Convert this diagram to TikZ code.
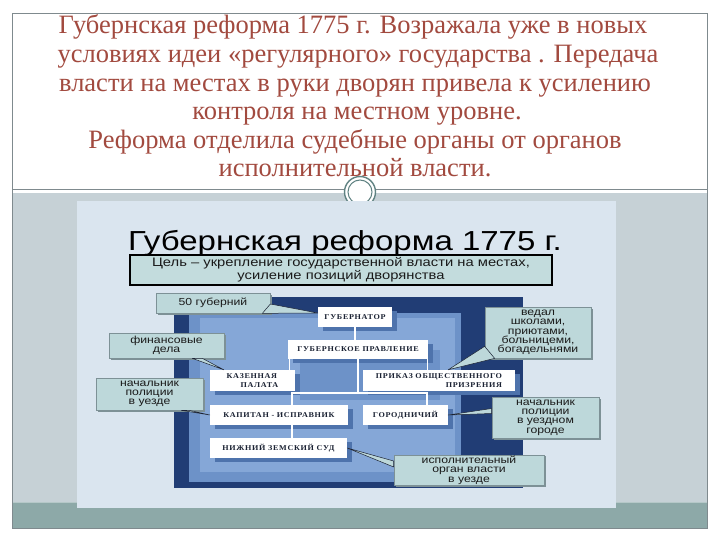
\documentclass[tikz,border=0pt]{standalone}
\usepackage{fontspec}
\setmainfont{Liberation Serif}
\newfontfamily\picsans[FakeStretch=1.2]{Liberation Sans}
\newfontfamily\picserif[FakeStretch=1.1,LetterSpace=9]{Liberation Serif}
\usetikzlibrary{calc,shadows}
\newcommand\tightlines{\lineskiplimit=-10pt\relax}
\definecolor{slidetxt}{HTML}{A24A3F}
\definecolor{framegray}{HTML}{7F8A8E}
\definecolor{lowbg}{HTML}{C6D1D6}
\definecolor{bandc}{HTML}{8DA9A8}
\definecolor{bandline}{HTML}{B5C8C8}
\definecolor{picbg}{HTML}{DAE5EF}
\definecolor{navy}{HTML}{213D75}
\definecolor{midblue}{HTML}{6D92C8}
\definecolor{lightblue}{HTML}{85A7D7}
\definecolor{shadeblue}{HTML}{4E73AC}
\definecolor{callfill}{HTML}{BDD8DA}
\definecolor{callborder}{HTML}{7D9196}
\definecolor{goalfill}{HTML}{C3DCDD}
\definecolor{ringc}{HTML}{5F8282}
\definecolor{boxtxt}{HTML}{1B2233}
\definecolor{calltxt}{HTML}{1A1A1A}
\begin{document}
\begin{tikzpicture}[x=1pt,y=-1pt,
  slideline/.style={anchor=base,text=slidetxt,font=\fontsize{26.5}{30}\selectfont,inner sep=0},
  wbox/.style={fill=white,inner sep=1pt,text=boxtxt,font=\picserif\bfseries\fontsize{7.4}{8.2}\selectfont\tightlines},
  callout/.style={fill=callfill,draw=callborder,line width=0.7pt,inner sep=1pt,align=center,
     text=calltxt,font=\picsans\fontsize{10.2}{9.3}\selectfont\tightlines,
     drop shadow={shadow xshift=1.5pt,shadow yshift=-1.5pt,fill=callborder,opacity=1}},
  ptr/.style={fill=callfill,draw=boxtxt,line width=0.5pt,line join=round},
  wline/.style={draw=white,line width=1.3pt},
  bshadow/.style={fill=shadeblue}
]
\useasboundingbox (0,0) rectangle (720,540);
% slide frame
\fill[white] (0,0) rectangle (720,540);
\fill[lowbg] (13,193) rectangle (707,502);
\fill[bandc] (13,502) rectangle (707,528);
\draw[bandline,line width=1pt] (13,502.5) -- (707,502.5);
\draw[framegray,line width=0.8pt] (12.5,13) rectangle (707.5,528);
\draw[framegray,line width=1pt] (12.5,190) -- (707.5,190);
% slide text
\node[slideline] (t1) at (353,34) {Губернская реформа 1775 г. Возражала уже в новых};
\node[slideline] (t2) at (358,62.6) {условиях идеи «регулярного» государства . Передача};
\node[slideline] (t3) at (355,91.2) {власти на местах в руки дворян привела к усилению};
\node[slideline] (t4) at (357,119.8) {контроля на местном уровне.};
\node[slideline] (t5) at (355,148.4) {Реформа отделила судебные органы от органов};
\node[slideline] (t6) at (355,177) {исполнительной власти.};
% ring ornament
\fill[white] (360,192) circle (15.5);
\draw[ringc,line width=1.4pt] (360,192) circle (15.5);
\draw[ringc,line width=1pt] (360,192) circle (12);
% embedded picture
\fill[picbg] (77,201) rectangle (616,508);
\node[anchor=base,inner sep=0,font=\picsans\fontsize{27.5}{30}\selectfont] (title) at (345,250) {Губернская реформа 1775 г.};
\node[draw=black,line width=1.5pt,fill=goalfill,minimum width=422pt,minimum height=30pt,inner sep=0,align=center,
      text=calltxt,font=\picsans\fontsize{12.3}{13}\selectfont\tightlines] (goal) at (341,270)
      {Цель – укрепление государственной власти на местах,\\усиление позиций дворянства};
% blue panel
\fill[navy] (174,297) rectangle (523,488);
\fill[midblue] (189,313) rectangle (461,482);
\fill[lightblue] (200,318) rectangle (455,472);
\fill[midblue] (300,350) rectangle (440,400);
% box shadows
\fill[bshadow] (323,311) rectangle (397,331);
\fill[bshadow] (293,344) rectangle (433,363);
\fill[bshadow] (215,374) rectangle (300,395);
\fill[bshadow] (368,374) rectangle (520,395);
\fill[bshadow] (215,409) rectangle (353,429);
\fill[bshadow] (368,409) rectangle (453,429);
\fill[bshadow] (215,442) rectangle (352,462);
% white boxes
\node[wbox,minimum width=74pt,minimum height=20pt] (gubr) at (355,317) {ГУБЕРНАТОР};
\node[wbox,minimum width=140pt,minimum height=19pt] (prav) at (358,349.5) {ГУБЕРНСКОЕ ПРАВЛЕНИЕ};
\node[wbox,minimum width=85pt,minimum height=21pt,align=left] (kaz) at (252.5,380.5) {КАЗЕННАЯ\\\hspace*{14pt}ПАЛАТА};
\node[wbox,minimum width=152pt,minimum height=21pt,align=right] (prik) at (439,380.5) {ПРИКАЗ ОБЩЕСТВЕННОГО\\ПРИЗРЕНИЯ};
\node[wbox,minimum width=138pt,minimum height=20pt] (kap) at (279,415) {КАПИТАН - ИСПРАВНИК};
\node[wbox,minimum width=85pt,minimum height=20pt] (gor) at (405.5,415) {ГОРОДНИЧИЙ};
\node[wbox,minimum width=137pt,minimum height=20pt] (niz) at (278.5,448) {НИЖНИЙ ЗЕМСКИЙ СУД};
% connectors
\coordinate (jl) at (292,393);
\coordinate (jr) at (427,393);
\draw[wline] (gubr.south) -- (gubr.south |- prav.north);
\draw[wline] ([xshift=2pt]prav.south west) -- ([xshift=2pt]prav.south west |- kaz.north);
\draw[wline] ([xshift=-1pt]prav.south east) -- ([xshift=-1pt]prav.south east |- prik.north);
\draw[wline] (prav.south) -- (prav.south |- jl);
\draw[wline] (jl |- kap.north) -- (jl) -- (jr) -- (jr |- gor.north);
\draw[wline] (kap.south -| jl) -- (niz.north -| jl);
% callouts
\node[callout,minimum width=114pt,minimum height=20pt] (c50) at (213,303) {50 губерний};
\node[callout,minimum width=115pt,minimum height=25pt] (cfin) at (166.5,345.5) {финансовые\\дела};
\node[callout,minimum width=107pt,minimum height=32pt] (cpol) at (149.5,394) {начальник\\полиции\\в уезде};
\node[callout,minimum width=106pt,minimum height=51pt] (cved) at (538,332.5) {ведал\\школами,\\приютами,\\больницеми,\\богадельнями};
\node[callout,minimum width=107pt,minimum height=41pt] (cgor) at (545.5,417.5) {начальник\\полиции\\в уездном\\городе};
\node[callout,minimum width=150pt,minimum height=30pt] (cisp) at (469,470) {исполнительный\\орган власти\\в уезде};
% pointers
\filldraw[ptr] ($(c50.east)+(0,1)$) -- ($(c50.south east)+(-8,0)$) -- ($(gubr.west)+(0,-4)$) -- cycle;
\filldraw[ptr] ($(cfin.south east)+(-32,0)$) -- ($(cfin.south east)+(-22,0)$) -- ($(kaz.north west)+(14,0)$) -- cycle;
\filldraw[ptr] ($(cpol.south east)+(-22,0)$) -- ($(cpol.south east)+(-14,0)$) -- (kap.west) -- cycle;
\filldraw[ptr] ($(cved.south west)+(0,-12)$) -- ($(cved.south west)+(10,0)$) -- ($(prik.north east)+(-67,0)$) -- cycle;
\filldraw[ptr] ($(cgor.west)+(0,-9)$) -- ($(cgor.west)+(0,-4)$) -- (gor.east) -- cycle;
\filldraw[ptr] ($(cisp.west)+(0,-9)$) -- ($(cisp.west)+(0,-3)$) -- (niz.east) -- cycle;
\end{tikzpicture}
\end{document}
